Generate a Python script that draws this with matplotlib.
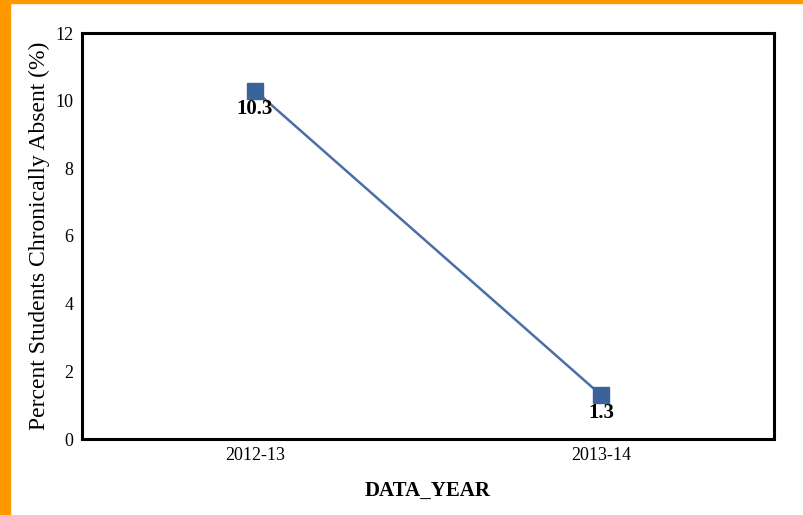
import matplotlib
matplotlib.use("Agg")
import matplotlib.pyplot as plt
from matplotlib.patches import Rectangle

# Data
years = ["2012-13", "2013-14"]
absent = [10.3, 1.3]

plt.rcParams['font.family'] = ['Liberation Serif', 'DejaVu Serif']

fig = plt.figure(figsize=(8.04, 5.15), dpi=100)
W, H = 804, 515

# orange frame on left and top
fig.patches.append(Rectangle((0, 0), 10 / W, 1, transform=fig.transFigure,
                             color='#ff9900', zorder=0))
fig.patches.append(Rectangle((0, 1 - 3 / H), 1, 3 / H, transform=fig.transFigure,
                             color='#ff9900', zorder=0))

ax = fig.add_axes([82 / W, 1 - 439 / H, (774 - 82) / W, (439 - 33) / H])

x = list(range(len(years)))
ax.plot(x, absent, color='#4a6fa5', linewidth=1.8, marker='s',
        markersize=12, markerfacecolor='#3a6399', markeredgecolor='#3a6399')

for xi, v in zip(x, absent):
    ax.annotate(f"{v}", (xi, v), xytext=(0, -13), textcoords='offset points',
                ha='center', va='center', fontsize=15, fontweight='bold')

ax.set_xlim(-0.5, 1.5)
ax.set_ylim(0, 12)
ax.set_yticks(range(0, 13, 2))
ax.set_xticks(x)
ax.set_xticklabels(years)
ax.tick_params(length=0, labelsize=13, pad=6)

for s in ax.spines.values():
    s.set_linewidth(2.2)
    s.set_color('black')

ax.set_xlabel("DATA_YEAR", fontsize=15, fontweight='bold', labelpad=12)
ax.set_ylabel("Percent Students Chronically Absent (%)", fontsize=17, labelpad=4)

fig.savefig("out.png", dpi=100)
